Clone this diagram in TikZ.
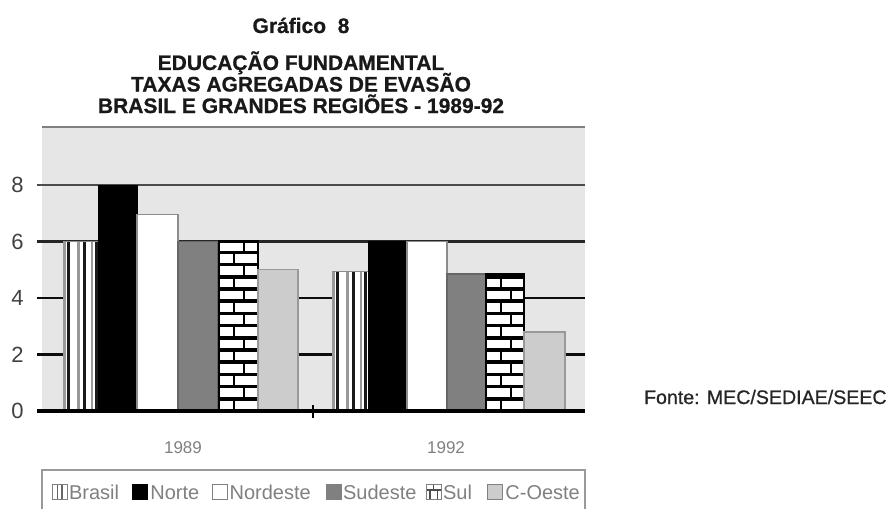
\documentclass[tikz,border=0pt]{standalone}
\usepackage{fontspec}
\setmainfont{Liberation Sans}
\newfontfamily\headfont[BoldFeatures={FakeBold=0.8}]{Liberation Sans}
\newfontfamily\srcfont[FakeBold=0.8]{Liberation Sans}
\usetikzlibrary{positioning}
\definecolor{panelgray}{HTML}{E6E6E6}
% value -> vertical pixel position
\newcommand{\yval}[1]{411-28.25*#1}
% striped bar (Brasil): left, right, value
\newcommand{\stripebar}[3]{%
  \fill[white] (#1,411) rectangle (#2,{\yval{#3}});
  \foreach \dx/\ink in {1.5/black!40, 5.5/black!90, 15.5/black!40, 21.5/black!90, 29/black!40, 33.5/black!90}
    \draw[line width=1.2pt, draw=\ink] ({#1+\dx},411) -- ({#1+\dx},{\yval{#3}});
  \draw[black!45, line width=0.6pt] (#1,{\yval{#3}}) -- (#2,{\yval{#3}});
}
% brick bar (Sul): left, right, value
\newcommand{\brickbar}[3]{%
  \begin{scope}
    \clip (#1,411) rectangle (#2,{\yval{#3}});
    \fill[white] (#1,411) rectangle (#2,{\yval{#3}});
    \foreach \r in {0,...,14} {
      \pgfmathsetmacro{\yb}{411-12.2*\r}
      \pgfmathsetmacro{\xd}{#1+(isodd(\r) ? 25 : 15)}
      \draw[line width=1.8pt] (#1,\yb) -- (#2,\yb);
      \draw[line width=1.3pt] (\xd,\yb) -- (\xd,\yb-12.2);
    }
  \end{scope}
  \draw[line width=1.2pt] (#1,411) rectangle (#2,{\yval{#3}});
}
\tikzset{
  every node/.style={inner sep=0pt},
  heading/.style={font=\headfont\bfseries\fontsize{10.5}{10.5}\selectfont, text=black!90},
  ticklabel/.style={font=\fontsize{11}{11}\selectfont, text=black!75},
  yearlabel/.style={font=\fontsize{8.5}{8.5}\selectfont, text=black!50},
  legendtext/.style={font=\fontsize{10}{10}\selectfont, text=black!50, text height=0.72em, text depth=0pt, anchor=west},
  legkey/.style={draw=black!50, line width=0.5pt, minimum size=7.5pt},
  topline/.style={draw=black!50, line width=1pt},
  gridline/.style={line width=1.2pt},
  axisline/.style={draw=black, line width=1.6pt},
  nortebar/.style={fill=black, draw=black, line width=0.5pt},
  nordestebar/.style={fill=white, draw=black!45, line width=0.6pt},
  sudestebar/.style={fill=black!50, draw=black!60, line width=0.6pt},
  oestebar/.style={fill=black!20, draw=black!40, line width=0.6pt},
}
\begin{document}
\begin{tikzpicture}[x=0.5pt, y=-0.5pt]
\useasboundingbox (0,0) rectangle (893,508);
% Heading
\node[heading, anchor=base] (title) at (301,33) {Gráfico\ \ 8};
\node[heading, anchor=base] (head1) at (301,70) {EDUCAÇÃO FUNDAMENTAL};
\node[heading, anchor=base] (head2) at (301,91.5) {TAXAS AGREGADAS DE EVASÃO};
\node[heading, anchor=base] (head3) at (301,113) {BRASIL E GRANDES REGIÕES - 1989-92};
% Plot panel and grid
\fill[panelgray] (42,127) rectangle (585,411);
\draw[topline] (42,127) -- (585,127);
\foreach \v/\shade in {8/70, 6/85, 4/95, 2/95}
  \draw[gridline, draw=black!\shade] (37,{\yval{\v}}) -- (585,{\yval{\v}});
% Axis labels
\foreach \v in {0,2,...,8}
  \node[ticklabel] (lab\v) at (17.5,{\yval{\v}}) {\v};
% Bars
\stripebar{63}{98}{6}
\stripebar{332}{368}{4.95}
\foreach \xl/\xr/\v in {98/137/8, 368/407/6}
  \draw[nortebar] (\xl,411) rectangle (\xr,{\yval{\v}});
\foreach \xl/\xr/\v in {137/178/6.95, 407/447/6}
  \draw[nordestebar] (\xl,411) rectangle (\xr,{\yval{\v}});
\foreach \xl/\xr/\v in {178/218/6, 447/486/4.85}
  \draw[sudestebar] (\xl,411) rectangle (\xr,{\yval{\v}});
\brickbar{219}{258}{6}
\brickbar{486}{524}{4.85}
\foreach \xl/\xr/\v in {258/298/5, 524/565/2.8}
  \draw[oestebar] (\xl,411) rectangle (\xr,{\yval{\v}});
% Zero line
\draw[axisline] (37,411) -- (585,411);
\draw[line width=1pt] (313,405) -- (313,418);
% Categories
\node[yearlabel] (year89) at (183,448) {1989};
\node[yearlabel] (year92) at (446,448) {1992};
% Legend
\draw[draw=black!40, line width=1pt] (42,512) -- (42,470) -- (585,470) -- (585,512);
\node[legkey, fill=white, path picture={
    \draw[black!60, line width=0.6pt] ([xshift=-1.2pt]path picture bounding box.north) -- ([xshift=-1.2pt]path picture bounding box.south);
    \draw[black!60, line width=0.6pt] ([xshift=1.2pt]path picture bounding box.north) -- ([xshift=1.2pt]path picture bounding box.south);}]
  (key-brasil) at (59.5,492) {};
\node[legendtext, right=0.6pt of key-brasil] (leg-brasil) {Brasil};
\node[legkey, fill=black, draw=black] (key-norte) at (140,492) {};
\node[legendtext, right=1pt of key-norte] (leg-norte) {Norte};
\node[legkey, fill=white] (key-nordeste) at (220,492) {};
\node[legendtext, right=0.6pt of key-nordeste] (leg-nordeste) {Nordeste};
\node[legkey, fill=black!50] (key-sudeste) at (333.5,492) {};
\node[legendtext, right=0.6pt of key-sudeste] (leg-sudeste) {Sudeste};
\node[legkey, fill=white, path picture={
    \draw[black!70, line width=0.8pt] ([yshift=1pt]path picture bounding box.west) -- ([yshift=1pt]path picture bounding box.east);
    \draw[black!70, line width=0.6pt] (path picture bounding box.north) -- ([yshift=1pt]path picture bounding box.center);
    \draw[black!70, line width=0.6pt] ([xshift=-1.8pt]path picture bounding box.south) -- ([xshift=-1.8pt, yshift=1pt]path picture bounding box.center);
    \draw[black!70, line width=0.6pt] ([xshift=1.8pt]path picture bounding box.south) -- ([xshift=1.8pt, yshift=1pt]path picture bounding box.center);}]
  (key-sul) at (433.5,492) {};
\node[legendtext, right=0.6pt of key-sul] (leg-sul) {Sul};
\node[legkey, fill=black!20] (key-oeste) at (495,492) {};
\node[legendtext, right=1pt of key-oeste] (leg-oeste) {C-Oeste};
% Source
\node[font=\srcfont\fontsize{9.8}{9.8}\selectfont, text=black!85, anchor=east] (source) at (887,397) {Fonte: MEC/SEDIAE/SEEC};
\end{tikzpicture}
\end{document}
